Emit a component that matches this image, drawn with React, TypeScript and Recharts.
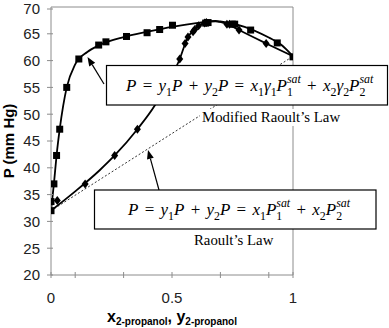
import React from 'react'
import { ComposedChart, Line, Scatter, XAxis, YAxis, ReferenceLine } from 'recharts'

const X_TICKS = [0, 0.1, 0.2, 0.3, 0.4, 0.5, 0.6, 0.7, 0.8, 0.9, 1]
const X_LABELED = [0, 0.5, 1]
const Y_TICKS = [20, 25, 30, 35, 40, 45, 50, 55, 60, 65, 70]

// measured points (squares)
const SQ_X = [0, 0, 0.012, 0.023, 0.036, 0.065, 0.115, 0.197, 0.227, 0.312, 0.397, 0.449, 0.502, 0.639, 0.649, 0.749, 0.759, 0.825, 0.935, 1.0]
const SQ_P = [32.0, 33.7, 37.0, 42.3, 47.2, 55.0, 60.3, 62.9, 63.5, 64.5, 65.2, 65.8, 66.6, 67.0, 67.1, 66.8, 66.8, 65.7, 63.3, 60.7]

// measured points (diamonds)
const DM_X = [0.026, 0.141, 0.263, 0.357, 0.532, 0.554, 0.566, 0.587, 0.594, 0.61, 0.635, 0.642, 0.727, 0.738, 0.777, 0.889]
const DM_P = [33.9, 37.0, 42.3, 47.2, 60.3, 63.2, 64.4, 65.4, 65.8, 66.5, 67.0, 67.1, 66.8, 66.8, 65.7, 63.2]

// modified Raoult's law curves
const UP_X = [0, 0.012, 0.023, 0.036, 0.065, 0.1, 0.15, 0.2, 0.3, 0.4, 0.5, 0.6, 0.68, 0.7, 0.8, 0.9, 0.95, 1]
const UP_P = [32, 37, 42.3, 47.2, 55, 59.3, 61.6, 62.9, 64.4, 65.4, 66.3, 67.0, 67.4, 67.3, 66.3, 64.3, 63.0, 60.8]
const LO_X = [0, 0.1, 0.2, 0.263, 0.357, 0.43, 0.48, 0.532, 0.554, 0.566, 0.59, 0.61, 0.64, 0.68, 0.73, 0.777, 0.889, 1]
const LO_P = [32, 35.6, 39.5, 42.3, 47.2, 51.7, 55.8, 60.3, 63.1, 64.4, 65.6, 66.5, 67.1, 67.3, 66.8, 65.7, 63.2, 60.8]

// Raoult's law (ideal)
const RAOULT_X = [0, 1]
const RAOULT_P = [32, 60.8]

const pts = (xs: number[], ps: number[]) => xs.map((x, i) => ({ x, P: ps[i] }))

const AXIS = '#8c8c8c'
const SANS = 'Liberation Sans, Arial, sans-serif'
const SERIF = 'Liberation Serif, Times New Roman, serif'

const XTick = (p: any) => {
  const v = p.payload.value
  return (
    <g>
      <line x1={p.x} x2={p.x} y1={p.y - 3} y2={p.y + 3} stroke={AXIS} />
      {X_LABELED.includes(v) && (
        <text x={p.x} y={p.y + 28} textAnchor="middle" fontSize={15} fill="#222" fontFamily={SANS}>{v}</text>
      )}
    </g>
  )
}

const YTick = (p: any) => (
  <g>
    <line x1={p.x - 4} x2={p.x + 2} y1={p.y} y2={p.y} stroke={AXIS} />
    <text x={p.x - 11} y={p.y + 5.3} textAnchor="end" fontSize={15} fill="#222" fontFamily={SANS}>{p.payload.value}</text>
  </g>
)

const Square = (p: any) => <rect x={p.cx - 3.5} y={p.cy - 3.5} width={7} height={7} fill="#000" />
const Diamond = (p: any) => (
  <polygon points={`${p.cx},${p.cy - 4.5} ${p.cx + 3.5},${p.cy} ${p.cx},${p.cy + 4.5} ${p.cx - 3.5},${p.cy}`} fill="#000" />
)

// i = italic, k = b(sub) / p(sup), op = operator with extra room
type Seg = { t: string; i?: boolean; k?: 'b' | 'p'; dx?: number; op?: boolean }

const EQ: Seg = { t: ' = ', op: true }
const PL: Seg = { t: ' + ', op: true }

const F_MOD: Seg[] = [
  { t: 'P', i: true }, EQ, { t: 'y', i: true }, { t: '1', k: 'b' }, { t: 'P', i: true }, PL,
  { t: 'y', i: true }, { t: '2', k: 'b' }, { t: 'P', i: true }, EQ,
  { t: 'x', i: true }, { t: '1', k: 'b' }, { t: 'γ', i: true }, { t: '1', k: 'b' }, { t: 'P', i: true }, { t: '1', k: 'b' },
  { t: 'sat', i: true, k: 'p', dx: -6 }, PL,
  { t: 'x', i: true }, { t: '2', k: 'b' }, { t: 'γ', i: true }, { t: '2', k: 'b' }, { t: 'P', i: true }, { t: '2', k: 'b' },
  { t: 'sat', i: true, k: 'p', dx: -6 },
]

const F_IDEAL: Seg[] = [
  { t: 'P', i: true }, EQ, { t: 'y', i: true }, { t: '1', k: 'b' }, { t: 'P', i: true }, PL,
  { t: 'y', i: true }, { t: '2', k: 'b' }, { t: 'P', i: true }, EQ,
  { t: 'x', i: true }, { t: '1', k: 'b' }, { t: 'P', i: true }, { t: '1', k: 'b' },
  { t: 'sat', i: true, k: 'p', dx: -6 }, PL,
  { t: 'x', i: true }, { t: '2', k: 'b' }, { t: 'P', i: true }, { t: '2', k: 'b' },
  { t: 'sat', i: true, k: 'p', dx: -6 },
]

function Formula({ x, y, segs, size }: { x: number; y: number; segs: Seg[]; size: number }) {
  let cur = 0
  let carry = 0
  return (
    <text x={x} y={y} fontSize={size} fontFamily={SERIF} fill="#000" style={{ whiteSpace: 'pre' }}>
      {segs.map((s, i) => {
        const off = s.k === 'b' ? size * 0.3 : s.k === 'p' ? -size * 0.45 : 0
        const dy = off - cur
        cur = off
        const dx = (s.dx ?? 0) + carry + (s.op ? 2 : 0)
        carry = s.op ? 2 : 0
        return (
          <tspan key={i} dy={dy} dx={dx} fontStyle={s.i ? 'italic' : 'normal'} fontSize={s.k ? size * 0.7 : size}>
            {s.t}
          </tspan>
        )
      })}
    </text>
  )
}

function Arrow({ x1, y1, x2, y2 }: { x1: number; y1: number; x2: number; y2: number }) {
  const a = Math.atan2(y2 - y1, x2 - x1)
  const L = 9, W = 3.5
  const bx = x2 - L * Math.cos(a), by = y2 - L * Math.sin(a)
  const px = -Math.sin(a) * W, py = Math.cos(a) * W
  return (
    <g>
      <line x1={x1} y1={y1} x2={bx} y2={by} stroke="#000" strokeWidth={1.2} />
      <polygon points={`${x2},${y2} ${bx + px},${by + py} ${bx - px},${by - py}`} fill="#000" />
    </g>
  )
}

export default function App() {
  return (
    <div style={{ position: 'absolute', left: 0, top: 0, width: 389, height: 328, background: '#fff' }}>
      <ComposedChart width={389} height={328} margin={{ top: 7, right: 96, bottom: 0, left: 0 }}>
        <XAxis
          type="number" dataKey="x" domain={[0, 1]} ticks={X_TICKS} height={53}
          stroke={AXIS} tickLine={false} tickSize={0} tickMargin={0} tick={XTick} allowDataOverflow
        />
        <YAxis
          type="number" dataKey="P" domain={[20, 70]} ticks={Y_TICKS} width={51}
          stroke={AXIS} tickLine={false} tickSize={0} tickMargin={0} tick={YTick} allowDataOverflow
        />
        <ReferenceLine y={70} stroke={AXIS} />
        <ReferenceLine x={1} stroke={AXIS} />
        <Line data={pts(RAOULT_X, RAOULT_P)} dataKey="P" stroke="#333" strokeWidth={1} strokeDasharray="2 2" dot={false} isAnimationActive={false} />
        <Line data={pts(UP_X, UP_P)} dataKey="P" type="monotone" stroke="#000" strokeWidth={1.8} dot={false} isAnimationActive={false} />
        <Line data={pts(LO_X, LO_P)} dataKey="P" type="monotone" stroke="#000" strokeWidth={1.8} dot={false} isAnimationActive={false} />
        <Scatter data={pts(SQ_X, SQ_P)} shape={Square} isAnimationActive={false} />
        <Scatter data={pts(DM_X, DM_P)} shape={Diamond} isAnimationActive={false} />
      </ComposedChart>

      <svg width={389} height={328} style={{ position: 'absolute', left: 0, top: 0, pointerEvents: 'none' }}>
        <Arrow x1={104} y1={84} x2={87.5} y2={57} />
        <rect x={106.5} y={65.5} width={281} height={39.5} fill="#fff" stroke="#000" strokeWidth={1.2} />
        <Formula x={126} y={91} segs={F_MOD} size={17} />
        <rect x={200} y={109} width={140} height={17} fill="#fff" />
        <text x={202} y={121.5} fontSize={14.8} fontFamily={SERIF} fill="#000">Modified Raoult’s Law</text>

        <Arrow x1={159} y1={190} x2={148} y2={150} />
        <rect x={94.5} y={190} width={281.5} height={39} fill="#fff" stroke="#000" strokeWidth={1.2} />
        <Formula x={128} y={215} segs={F_IDEAL} size={17} />
        <text x={194} y={245} fontSize={14.8} fontFamily={SERIF} fill="#000">Raoult’s Law</text>

        <text x={13.5} y={141} transform="rotate(-90 13.5 141)" textAnchor="middle" fontSize={15} fontWeight="bold" fontFamily={SANS} fill="#000">
          P (mm Hg)
        </text>
        <text x={172} y={322} textAnchor="middle" fontWeight="bold" fontFamily={SANS} fill="#000" style={{ whiteSpace: 'pre' }}>
          <tspan fontSize={16}>x</tspan>
          <tspan fontSize={10} dy={3}>2-propanol</tspan>
          <tspan fontSize={16} dy={-3}>, y</tspan>
          <tspan fontSize={10} dy={3}>2-propanol</tspan>
        </text>
      </svg>
    </div>
  )
}
